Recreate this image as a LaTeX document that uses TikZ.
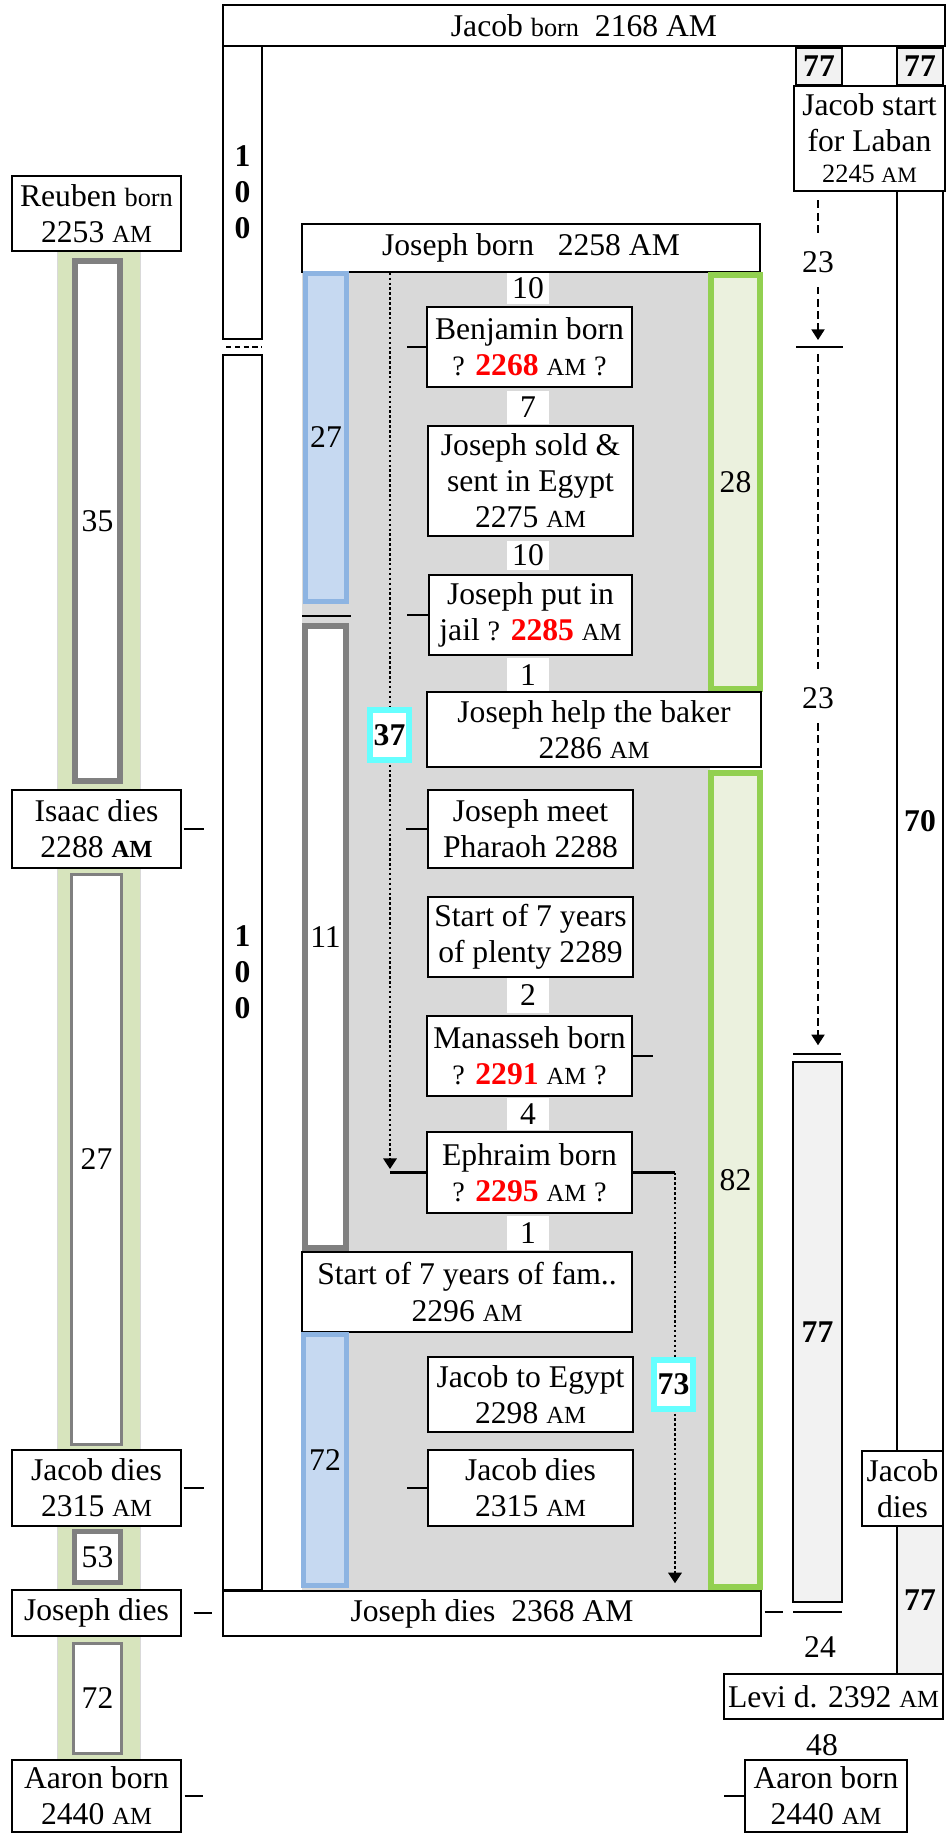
\documentclass[tikz,border=0pt]{standalone}
\usepackage{fontspec}
\setmainfont{Liberation Serif}
\usetikzlibrary{arrows.meta}

\definecolor{areagray}{HTML}{D9D9D9}
\definecolor{bandgreen}{HTML}{D7E4BD}
\definecolor{barblue}{HTML}{C6D9F1}
\definecolor{edgeblue}{HTML}{8DB4E2}
\definecolor{bargreen}{HTML}{EBF1DE}
\definecolor{edgegreen}{HTML}{92D050}
\definecolor{edgegray}{HTML}{808080}
\definecolor{palegray}{HTML}{F2F2F2}
\definecolor{markcyan}{HTML}{66FFFF}

\newcommand{\am}{{\fontsize{14}{16}\selectfont AM}}
\newcommand{\qq}{{\fontsize{16}{16}\selectfont ?}}
\newcommand{\yr}[1]{\textcolor{red}{\textbf{#1}}}
\newcommand{\smw}[1]{{\fontsize{15}{16}\selectfont #1}}

\begin{document}
\begin{tikzpicture}[x=0.02cm, y=-0.02cm, >={Triangle[length=6pt,width=7.5pt]},
    every node/.style={font=\fontsize{18}{20.5}\selectfont, inner sep=0pt},
    sz/.style 2 args={minimum width=#1*0.02cm, minimum height=#2*0.02cm},
    evbox/.style={draw, line width=0.8pt, fill=white, align=center},
    lane/.style={draw, line width=0.8pt, fill=white, align=center},
    boldnum/.style={font=\fontsize{18}{20.5}\selectfont\bfseries},
    bluebar/.style={draw=edgeblue, fill=barblue, line width=2.8pt},
    greenbar/.style={draw=edgegreen, fill=bargreen, line width=3.4pt},
    graybar/.style={draw=edgegray, fill=white, line width=#1},
    gaplbl/.style={fill=white, minimum width=0.84cm},
    tag/.style={draw=markcyan, fill=white, line width=3.4pt, boldnum},
    tick/.style={line width=0.8pt},
    dotarr/.style={->, line width=1.4pt, dash pattern=on 1.4pt off 1.4pt},
    dasharr/.style={->, line width=0.7pt, dash pattern=on 4.5pt off 2.5pt}]

    \useasboundingbox (0,0) rectangle (947,1833);

    % backgrounds
    \fill[areagray] (302,272) rectangle (710,1590);
    \draw[black!15, fill=bandgreen] (57,251) rectangle (140,1760);

    % Reuben column
    \node[evbox, sz={169}{75}] (reuben) at (96.5,213.5) {Reuben \smw{born}\\2253 \am};
    \node[graybar=3.4pt, sz={45}{520}] (r35) at (97.5,521) {35};
    \node[evbox, sz={169}{78}] (isaac) at (96.5,829) {Isaac dies\\2288 \textbf{\am}};
    \node[graybar=1.7pt, sz={50}{570}] (r27) at (96.5,1159.5) {27};
    \node[evbox, sz={169}{76}] (jdiesL) at (96.5,1488) {Jacob dies\\2315 \am};
    \node[graybar=2.8pt, sz={46}{51}] (r53) at (97.5,1557) {53};
    \node[evbox, sz={169}{46}] (josdiesL) at (96.5,1613) {Joseph dies};
    \node[graybar=1.7pt, sz={48}{110}] (r72) at (97.5,1698.5) {72};
    \node[evbox, sz={169}{72}] (aaronL) at (96.5,1796) {Aaron born\\2440 \am};

    \draw[tick] (isaac.east) ++(2,0) -- ++(20,0);
    \draw[tick] (jdiesL.east) ++(2,0) -- ++(20,0);
    \draw[tick] (josdiesL.east) ++(12,0) -- ++(18,0);
    \draw[tick] (aaronL.east) ++(3,0) -- ++(18,0);

    % Jacob frame
    \node[evbox, sz={722}{41}] (jborn) at (584,25.5) {Jacob \smw{born}~~2168 AM};
    \node[lane, sz={39}{293}, boldnum] (j100a) at (242.5,192.5) {1\\0\\0};
    \draw[tick, dash pattern=on 3pt off 2pt] (226,347) -- (262,347);
    \node[lane, sz={39}{1235}, boldnum] (j100b) at (242.5,972.5) {1\\0\\0};

    % Joseph column
    \node[evbox, sz={458}{48}] (josborn) at (531,248) {Joseph born~~~2258 AM};
    \node[bluebar, sz={41}{328}] (b27) at (326,437.5) {27};
    \draw[tick] (302,616) -- (351,616);
    \node[graybar=3.4pt, sz={41}{622}] (b11) at (325.5,937) {11};
    \node[evbox, sz={330}{80}] (famine) at (467,1292) {Start of 7 years of fam..\\2296 \am};
    \node[bluebar, sz={43}{251}] (b72) at (325,1460) {72};
    \node[greenbar, sz={49}{414}] (g28) at (735.5,482) {28};
    \node[greenbar, sz={49}{814}] (g82) at (735.5,1180) {82};

    % events
    \node[gaplbl, sz={42}{31}] (d10a) at (528,288.5) {10};
    \node[evbox, sz={205}{80}] (benj) at (529.5,347) {Benjamin born\\\qq{} \yr{2268} \am{} \qq};
    \node[gaplbl, sz={42}{33}] (d7) at (528,407.5) {7};
    \node[evbox, sz={205}{110}] (sold) at (530.5,481) {Joseph sold \&\\sent in Egypt\\2275 \am};
    \node[gaplbl, sz={42}{29}] (d10b) at (528,555.5) {10};
    \node[evbox, sz={203}{80}] (jail) at (530.5,615) {Joseph put in\\jail \qq{} \yr{2285} \am};
    \node[gaplbl, sz={42}{34}] (d1a) at (528,675) {1};
    \node[evbox, sz={334}{75}] (baker) at (594,729.5) {Joseph help the baker\\2286 \am};
    \node[evbox, sz={205}{78}] (pharaoh) at (530.5,829) {Joseph meet\\Pharaoh 2288};
    \node[evbox, sz={205}{80}] (plenty) at (530.5,937) {Start of 7 years\\of plenty 2289};
    \node[gaplbl, sz={42}{35}] (d2) at (528,995.5) {2};
    \node[evbox, sz={205}{80}] (manasseh) at (529.5,1056) {Manasseh born\\\qq{} \yr{2291} \am{} \qq};
    \node[gaplbl, sz={42}{32}] (d4) at (528,1114) {4};
    \node[evbox, sz={205}{81}, line width=1.6pt] (ephraim) at (529.5,1172.5) {Ephraim born\\\qq{} \yr{2295} \am{} \qq};
    \node[gaplbl, sz={42}{34}] (d1b) at (528,1233) {1};
    \node[evbox, sz={205}{75}] (egypt) at (530.5,1394.5) {Jacob to Egypt\\2298 \am};
    \node[evbox, sz={205}{76}] (jdiesC) at (530.5,1488) {Jacob dies\\2315 \am};
    \node[evbox, sz={538}{45}] (josdies) at (492,1613.5) {Joseph dies~~2368 AM};

    \draw[tick] (benj.west) -- ++(-19,0);
    \draw[tick] (jail.west) -- ++(-21,0);
    \draw[tick] (pharaoh.west) -- ++(-21,0);
    \draw[tick] (jdiesC.west) -- ++(-20,0);
    \draw[tick] (manasseh.east) -- ++(20,0);
    \draw[tick] (josdies.east) ++(3,-1.5) -- ++(18,0);

    % Ephraim links
    \coordinate (e1) at (390,1172.5);
    \coordinate (e2) at (675,1172.5);
    \draw[line width=1.6pt] (ephraim.west) -- (e1);
    \draw[line width=1.6pt] (ephraim.east) -- (e2);
    \draw[dotarr, shorten >=2pt] (josborn.south -| e1) -- (e1);
    \draw[dotarr, shorten >=4pt] (e2) -- (e2 |- josdies.north);
    \node[tag, sz={39}{50}] (t37) at (389.5,735) {37};
    \node[tag, sz={39}{49}] (t73) at (673.5,1384.5) {73};

    % right side
    \node[evbox, sz={46}{37}, fill=palegray, boldnum] (n77a) at (819,66.5) {77};
    \node[evbox, sz={46}{37}, fill=palegray, boldnum] (n77b) at (920,66.5) {77};
    \node[evbox, sz={151}{105}] (laban) at (869.5,138.5) {Jacob start\\for Laban\\[-3pt]{\fontsize{15}{16}\selectfont 2245 {\fontsize{12.5}{14}\selectfont AM}}};
    \node[lane, sz={46}{1260}, boldnum] (c70) at (920,821) {70};
    \node[evbox, sz={81}{75}] (jdiesR) at (902.5,1488.5) {Jacob\\dies};
    \node[lane, sz={46}{148}, fill=palegray, boldnum] (c77R) at (920,1600) {77};
    \node[evbox, sz={219}{45}] (levi) at (833.5,1696.5) {Levi d. 2392 \am};
    \node (n48) at (822,1745) {48};
    \node[evbox, sz={162}{72}] (aaronR) at (826,1796) {Aaron born\\2440 \am};
    \draw[tick] (aaronR.west) -- ++(-20,0);

    % Laban count
    \coordinate (m1) at (818,347);
    \coordinate (m2) at (818,1054);
    \draw[tick] (m1) ++(-22,0) -- ++(47,0);
    \draw[tick] (m2) ++(-25,0) -- ++(48,0);
    \draw[dasharr, shorten <=5pt, shorten >=4pt] (laban.south -| m1) -- (m1);
    \draw[dasharr, shorten <=4pt, shorten >=5pt] (m1) -- (m2);
    \node[gaplbl, sz={40}{50}] (y23a) at (818,262) {23};
    \node[gaplbl, sz={40}{50}] (y23b) at (818,698) {23};
    \node[lane, sz={49}{540}, fill=palegray, boldnum] (c77) at (817.5,1332) {77};
    \draw[tick] (793,1612) -- (842,1612);
    \node (n24) at (820,1647) {24};
\end{tikzpicture}
\end{document}
